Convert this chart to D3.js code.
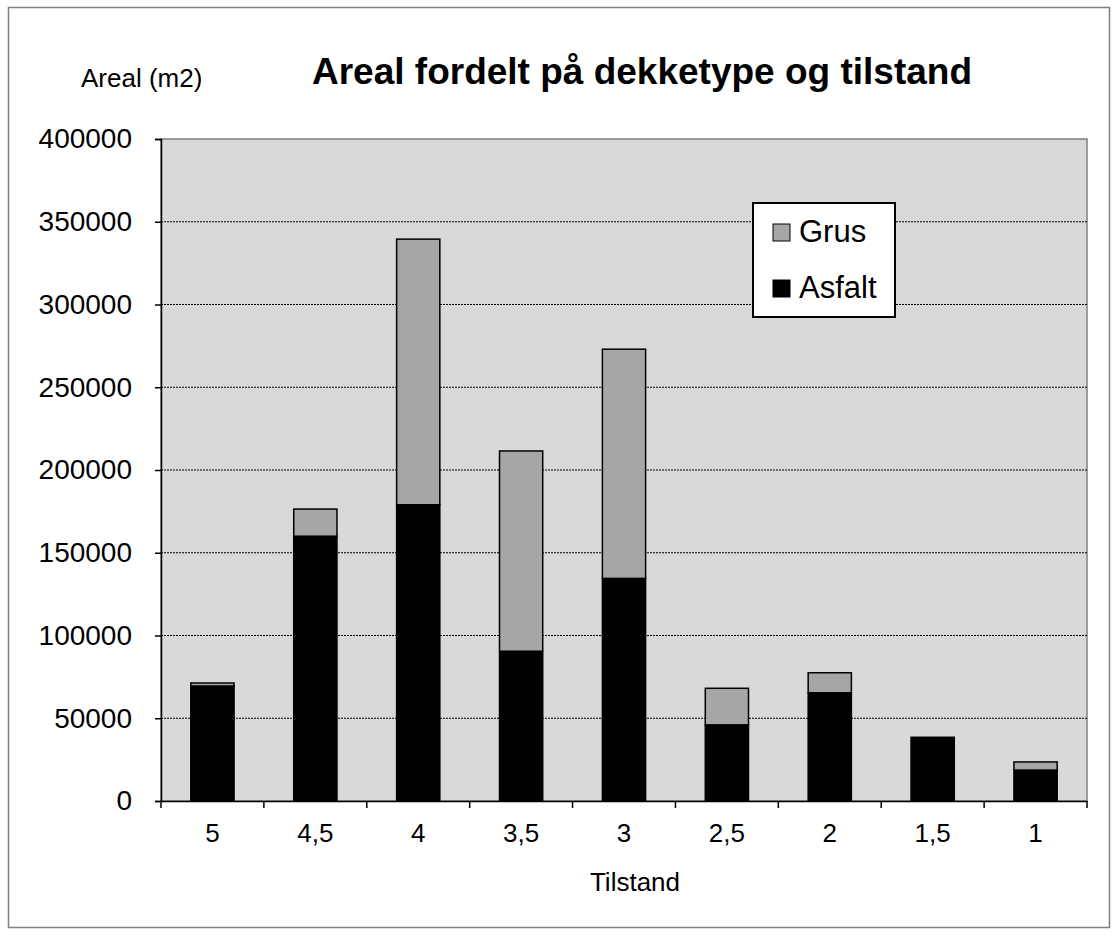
<!DOCTYPE html>
<html>
<head>
<meta charset="utf-8">
<script src="https://cdn.jsdelivr.net/npm/d3@7"></script>
<style>
  body { margin: 0; background: #fff; }
  text { font-family: "Liberation Sans", Arial, sans-serif; fill: #000; }
</style>
</head>
<body>
<svg id="chart" width="1119" height="936"></svg>
<script>
// ---------- data ----------
const categories = ["5", "4,5", "4", "3,5", "3", "2,5", "2", "1,5", "1"];
const asfalt = [69500, 160000, 179000, 90500, 134500, 46000, 65400, 38500, 18700];
const grus = [1800, 16400, 160500, 121000, 138500, 22100, 12100, 0, 4900];
const yTicks = [0, 50000, 100000, 150000, 200000, 250000, 300000, 350000, 400000];
const seriesNames = ["Grus", "Asfalt"];

// ---------- layout ----------
const svg = d3.select("#chart");
const plot = { left: 161, right: 1087, top: 139, bottom: 801 };
const FONT = "Liberation Sans, Arial, sans-serif";

// outer frame
svg.append("rect")
  .attr("x", 8.5).attr("y", 7.5)
  .attr("width", 1101).attr("height", 920)
  .attr("fill", "#fff").attr("stroke", "#808080").attr("stroke-width", 1.5);

const x = d3.scaleBand()
  .domain(categories)
  .range([plot.left, plot.right])
  .paddingInner(0.58).paddingOuter(0.29);

const y = d3.scaleLinear().domain([0, 400000]).range([plot.bottom, plot.top]);

// plot background
svg.append("rect")
  .attr("x", plot.left).attr("y", plot.top)
  .attr("width", plot.right - plot.left).attr("height", plot.bottom - plot.top)
  .attr("fill", "#d9d9d9").attr("stroke", "#808080").attr("stroke-width", 1.5);

// gridlines
svg.append("g")
  .selectAll("line")
  .data(yTicks.filter((d) => d > 0 && d < 400000))
  .join("line")
  .attr("x1", plot.left).attr("x2", plot.right)
  .attr("y1", (d) => y(d)).attr("y2", (d) => y(d))
  .attr("stroke", "#000").attr("stroke-width", 1)
  .attr("stroke-dasharray", "2,1");

// stacked bars
const rows = categories.map((c, i) => ({ cat: c, Asfalt: asfalt[i], Grus: grus[i] }));
const stack = d3.stack().keys(["Asfalt", "Grus"])(rows);
const colors = { Asfalt: "#000000", Grus: "#a6a6a6" };

svg.append("g")
  .selectAll("g")
  .data(stack)
  .join("g")
  .attr("fill", (s) => colors[s.key])
  .selectAll("rect")
  .data((s) => s.filter((d) => d[1] - d[0] > 0))
  .join("rect")
  .attr("x", (d) => x(d.data.cat))
  .attr("width", x.bandwidth())
  .attr("y", (d) => y(d[1]))
  .attr("height", (d) => y(d[0]) - y(d[1]))
  .attr("stroke", "#000")
  .attr("stroke-width", 1.5);

// y axis
const yAxis = svg.append("g")
  .attr("transform", `translate(${plot.left},0)`)
  .call(d3.axisLeft(y).tickValues(yTicks).tickSize(6).tickPadding(23).tickFormat(d3.format("d")));
yAxis.select(".domain").attr("stroke", "#000").attr("stroke-width", 1.5);
yAxis.selectAll(".tick line").attr("stroke", "#000").attr("stroke-width", 1.5);
yAxis.selectAll(".tick text")
  .attr("font-size", 28)
  .attr("font-family", FONT);

// x axis
const xAxis = svg.append("g")
  .attr("transform", `translate(0,${plot.bottom})`)
  .call(d3.axisBottom(x).tickSize(0));
xAxis.select(".domain").attr("stroke", "#000").attr("stroke-width", 1.5);
xAxis.selectAll(".tick text")
  .attr("y", 41).attr("dy", 0)
  .attr("font-size", 26)
  .attr("font-family", FONT);

// category boundary ticks
const edges = categories.map((c, i) => plot.left + i * x.step());
edges.push(plot.right);
svg.append("g")
  .selectAll("line")
  .data(edges)
  .join("line")
  .attr("x1", (d) => d).attr("x2", (d) => d)
  .attr("y1", plot.bottom).attr("y2", plot.bottom + 7)
  .attr("stroke", "#000").attr("stroke-width", 1.5);

// titles
svg.append("text")
  .attr("x", 642).attr("y", 84)
  .attr("text-anchor", "middle")
  .attr("font-size", 37).attr("font-weight", "bold")
  .text("Areal fordelt på dekketype og tilstand");

svg.append("text")
  .attr("x", 81).attr("y", 87)
  .attr("font-size", 26)
  .text("Areal (m2)");

svg.append("text")
  .attr("x", 635).attr("y", 891)
  .attr("text-anchor", "middle")
  .attr("font-size", 26)
  .text("Tilstand");

// legend
const legend = svg.append("g").attr("transform", "translate(753,203)");
legend.append("rect")
  .attr("width", 142).attr("height", 114)
  .attr("fill", "#fff").attr("stroke", "#000").attr("stroke-width", 2);

const items = legend.selectAll("g.item")
  .data(seriesNames)
  .join("g")
  .attr("class", "item")
  .attr("transform", (d, i) => `translate(20,${21 + i * 56})`);
items.append("rect")
  .attr("width", 17).attr("height", 17)
  .attr("fill", (d) => colors[d])
  .attr("stroke", "#000").attr("stroke-width", 1);
items.append("text")
  .attr("x", 26).attr("y", 18)
  .attr("font-size", 31)
  .text((d) => d);
</script>
</body>
</html>
